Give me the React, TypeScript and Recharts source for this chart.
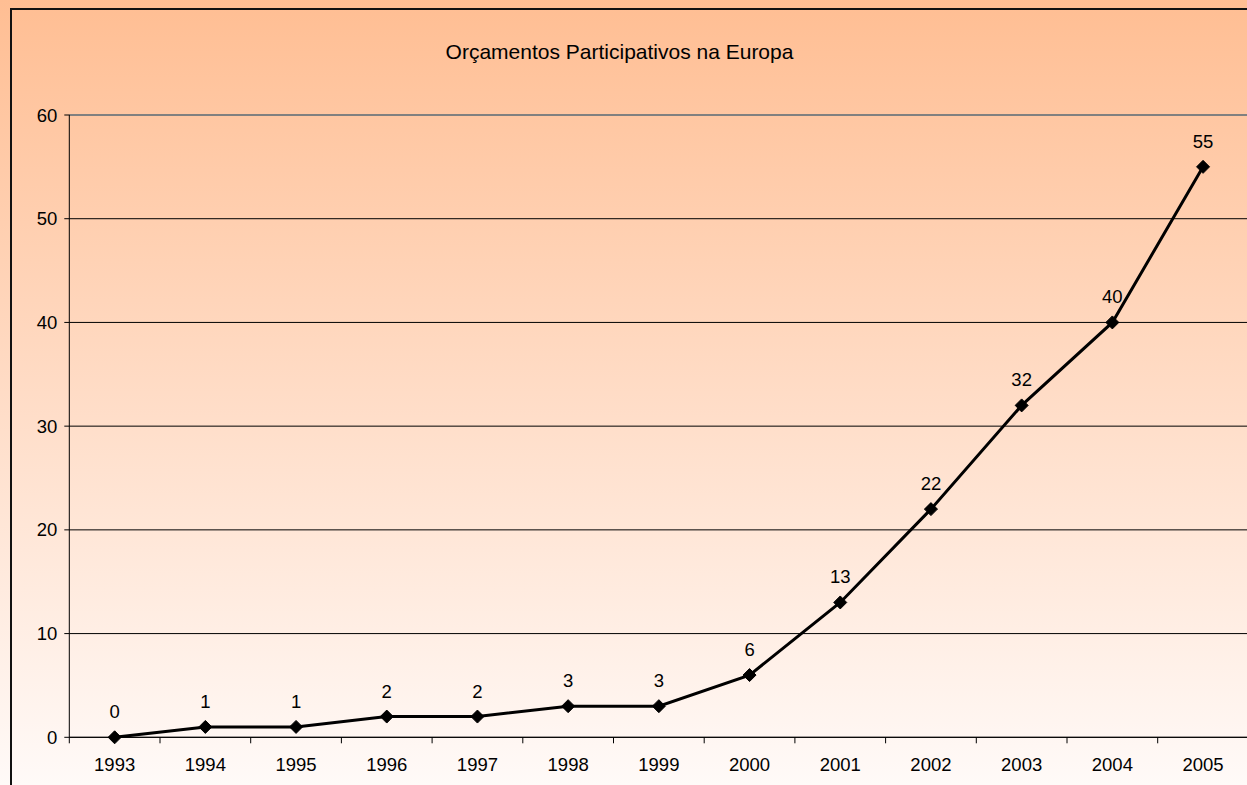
import {
	LineChart,
	Line,
	XAxis,
	YAxis,
	CartesianGrid,
	ReferenceLine,
	LabelList,
} from "recharts";

const years = [
	"1993", "1994", "1995", "1996", "1997", "1998", "1999",
	"2000", "2001", "2002", "2003", "2004", "2005",
];
const counts = [0, 1, 1, 2, 2, 3, 3, 6, 13, 22, 32, 40, 55];
const yTicks = [0, 10, 20, 30, 40, 50, 60];
const title = "Orçamentos Participativos na Europa";

const data = years.map((year, i) => ({ year, count: counts[i] }));

const FONT = '"Liberation Sans", Arial, sans-serif';
const HALF_BAND = 45.35;

function YearTick({ x, y, payload }: any) {
	return (
		<g>
			<line
				x1={x - HALF_BAND}
				x2={x - HALF_BAND}
				y1={y}
				y2={y + 6}
				stroke="#000"
				strokeWidth={1}
			/>
			<text
				x={x}
				y={y + 34}
				textAnchor="middle"
				fontSize={18.5}
				fontFamily={FONT}
				fill="#000"
			>
				{payload.value}
			</text>
		</g>
	);
}

function Diamond({ cx, cy, index }: any) {
	const r = 6.5;
	return (
		<polygon
			key={index}
			points={`${cx},${cy - r} ${cx + r},${cy} ${cx},${cy + r} ${cx - r},${cy}`}
			fill="#000"
			stroke="#000"
		/>
	);
}

export default function App() {
	return (
		<div
			style={{
				position: "absolute",
				left: 0,
				top: 0,
				width: 1247,
				height: 785,
				overflow: "hidden",
				background: "linear-gradient(to bottom, #ffbe93 0%, #ffdcc6 50%, #fffaf8 100%)",
			}}
		>
			<div
				style={{
					position: "absolute",
					left: 10,
					top: 8,
					width: 1300,
					height: 900,
					borderLeft: "2px solid #111",
					borderTop: "2px solid #111",
				}}
			/>
			<svg
				width={1247}
				height={100}
				style={{ position: "absolute", left: 0, top: 0 }}
			>
				<text
					x={619.5}
					y={59}
					textAnchor="middle"
					fontSize={21}
					fontFamily={FONT}
					fill="#000"
				>
					{title}
				</text>
			</svg>
			<div style={{ position: "absolute", left: 0, top: 0 }}>
				<LineChart
					width={1260}
					height={785}
					data={data}
					margin={{ top: 115, right: 11.6, left: 0, bottom: 0 }}
				>
					<CartesianGrid vertical={false} stroke="#000" strokeWidth={1} />
					<ReferenceLine y={60} stroke="#808080" strokeWidth={2} />
					<XAxis
						dataKey="year"
						height={47.7}
						padding={{ left: HALF_BAND, right: HALF_BAND }}
						tick={<YearTick />}
						tickLine={false}
						tickSize={0}
						tickMargin={0}
						stroke="#000"
						interval={0}
					/>
					<YAxis
						width={69.3}
						domain={[0, 60]}
						ticks={yTicks}
						tickSize={5}
						tickMargin={7}
						stroke="#000"
						tick={{ fontSize: 18.5, fill: "#000", fontFamily: FONT }}
					/>
					<Line
						type="linear"
						dataKey="count"
						stroke="#000"
						strokeWidth={3}
						dot={<Diamond />}
						activeDot={false}
						isAnimationActive={false}
					>
						<LabelList
							dataKey="count"
							position="top"
							offset={19}
							fontSize={18.5}
							fontFamily={FONT}
							fill="#000"
						/>
					</Line>
				</LineChart>
			</div>
		</div>
	);
}
